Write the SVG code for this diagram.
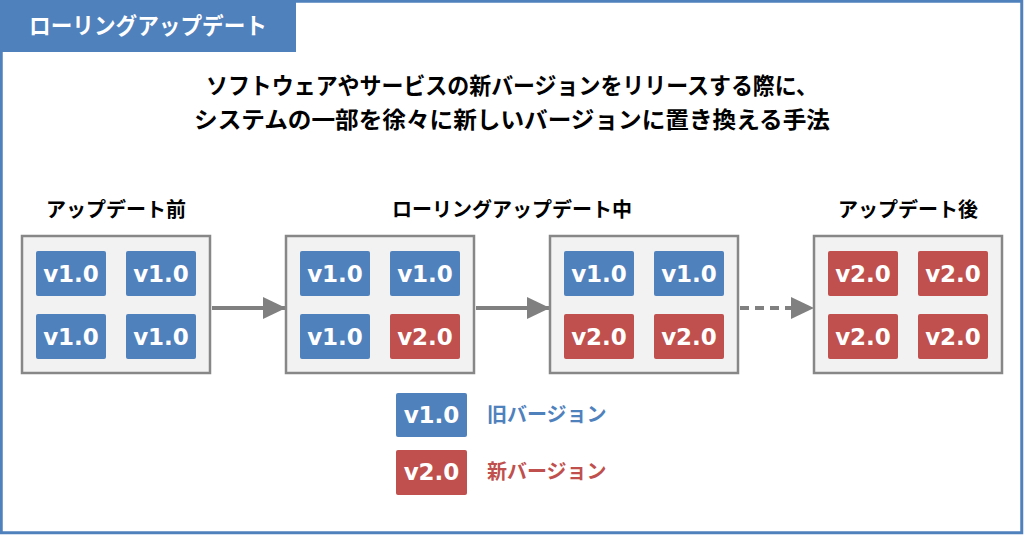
<svg xmlns="http://www.w3.org/2000/svg" width="1024" height="535" viewBox="0 0 1024 535">
<defs>
<style>
.jp{font-family:"Noto Sans CJK JP","Noto Sans",sans-serif;font-weight:bold}
.box{fill:#f2f2f2;stroke:#878787;stroke-width:2.5}
.old{fill:#4f81bd;rx:2}
.new{fill:#c0504d;rx:2}
.chipt{font-family:"DejaVu Sans",sans-serif;font-weight:bold;font-size:23px;fill:#fff;text-anchor:middle}
.conn{stroke:#808080;stroke-width:4;fill:none}
</style>
<marker id="ah" markerUnits="userSpaceOnUse" markerWidth="24" markerHeight="24" refX="22" refY="12" orient="auto">
<path d="M0,1 L23,12 L0,23 Z" fill="#808080"/>
</marker>
</defs>
<rect x="0" y="0" width="1024" height="535" fill="#fff"/>
<rect x="1.25" y="1.25" width="1020.5" height="531.5" fill="none" stroke="#4f81bd" stroke-width="3"/>
<g id="title">
<rect x="0" y="0" width="296" height="52" fill="#4f81bd"/>
<text class="jp" x="148" y="34" font-size="23" fill="#fff" text-anchor="middle" textLength="238" lengthAdjust="spacingAndGlyphs">ローリングアップデート</text>
</g>
<g id="subtitle" class="jp" font-size="23" fill="#000" text-anchor="middle">
<text x="512" y="94" textLength="612" lengthAdjust="spacingAndGlyphs">ソフトウェアやサービスの新バージョンをリリースする際に、</text>
<text x="512" y="128" textLength="636" lengthAdjust="spacingAndGlyphs">システムの一部を徐々に新しいバージョンに置き換える手法</text>
</g>
<g id="headings" class="jp" font-size="20" fill="#000" text-anchor="middle">
<text x="116" y="217">アップデート前</text>
<text x="512" y="217">ローリングアップデート中</text>
<text x="908" y="217">アップデート後</text>
</g>
<g id="connectors">
<line class="conn" x1="212" y1="308" x2="285" y2="308" marker-end="url(#ah)"/>
<line class="conn" x1="476" y1="308" x2="549" y2="308" marker-end="url(#ah)"/>
<line class="conn" x1="740" y1="308" x2="813" y2="308" stroke-dasharray="9,6" marker-end="url(#ah)"/>
</g>
<g id="before">
<rect class="box" x="22" y="236" width="188" height="137"/>
<rect class="old" x="36" y="251" width="70" height="45"/><text class="chipt" x="71" y="282">v1.0</text>
<rect class="old" x="126" y="251" width="70" height="45"/><text class="chipt" x="161" y="282">v1.0</text>
<rect class="old" x="36" y="314" width="70" height="45"/><text class="chipt" x="71" y="345">v1.0</text>
<rect class="old" x="126" y="314" width="70" height="45"/><text class="chipt" x="161" y="345">v1.0</text>
</g>
<g id="during1">
<rect class="box" x="286" y="236" width="188" height="137"/>
<rect class="old" x="300" y="251" width="70" height="45"/><text class="chipt" x="335" y="282">v1.0</text>
<rect class="old" x="390" y="251" width="70" height="45"/><text class="chipt" x="425" y="282">v1.0</text>
<rect class="old" x="300" y="314" width="70" height="45"/><text class="chipt" x="335" y="345">v1.0</text>
<rect class="new" x="390" y="314" width="70" height="45"/><text class="chipt" x="425" y="345">v2.0</text>
</g>
<g id="during2">
<rect class="box" x="550" y="236" width="188" height="137"/>
<rect class="old" x="564" y="251" width="70" height="45"/><text class="chipt" x="599" y="282">v1.0</text>
<rect class="old" x="654" y="251" width="70" height="45"/><text class="chipt" x="689" y="282">v1.0</text>
<rect class="new" x="564" y="314" width="70" height="45"/><text class="chipt" x="599" y="345">v2.0</text>
<rect class="new" x="654" y="314" width="70" height="45"/><text class="chipt" x="689" y="345">v2.0</text>
</g>
<g id="after">
<rect class="box" x="814" y="236" width="188" height="137"/>
<rect class="new" x="828" y="251" width="70" height="45"/><text class="chipt" x="863" y="282">v2.0</text>
<rect class="new" x="918" y="251" width="70" height="45"/><text class="chipt" x="953" y="282">v2.0</text>
<rect class="new" x="828" y="314" width="70" height="45"/><text class="chipt" x="863" y="345">v2.0</text>
<rect class="new" x="918" y="314" width="70" height="45"/><text class="chipt" x="953" y="345">v2.0</text>
</g>
<g id="legend">
<rect class="old" x="396" y="393" width="71" height="44"/><text class="chipt" x="431.5" y="423">v1.0</text>
<text class="jp" x="487" y="422" font-size="20" fill="#4f81bd">旧バージョン</text>
<rect class="new" x="396" y="450" width="71" height="45"/><text class="chipt" x="431.5" y="480">v2.0</text>
<text class="jp" x="487" y="479" font-size="20" fill="#c0504d">新バージョン</text>
</g>
</svg>
